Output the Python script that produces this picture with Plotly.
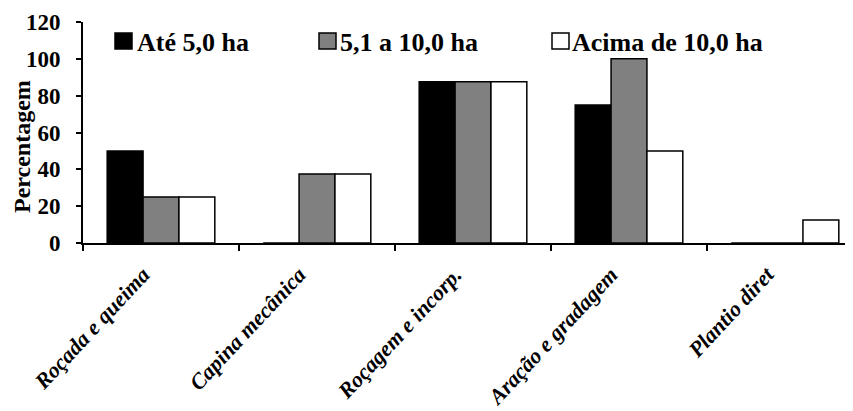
import plotly.graph_objects as go

categories = ["Roçada e queima", "Capina mecânica", "Roçagem e incorp.", "Aração e gradagem", "Plantio diret"]
series_names = ["Até 5,0 ha", "5,1 a 10,0 ha", "Acima de 10,0 ha"]
ate_5 = [50, 0, 87.5, 75, 0]
de_5_a_10 = [25, 37.5, 87.5, 100, 0]
acima_10 = [25, 37.5, 87.5, 50, 12.5]
series_values = [ate_5, de_5_a_10, acima_10]
colors = ["#000000", "#808080", "#ffffff"]
y_ticks = [0, 20, 40, 60, 80, 100, 120]
y_title = "Percentagem"

OFF = 8  # page body margin in the browser
W, H = 853 - OFF, 411 - OFF
L, R, T = 83 - OFF, 0, 22 - OFF
B = H - (243 - OFF)
pw, ph = W - L - R, H - T - B

FONT = "Liberation Serif, Times New Roman, serif"

fig = go.Figure()
for name, vals, col in zip(series_names, series_values, colors):
    fig.add_trace(go.Bar(
        x=categories, y=vals, name=name,
        marker=dict(color=col, line=dict(color="#000000", width=1.5)),
        showlegend=False,
    ))

def px2x(px):
    return (px - OFF - L) / pw

def px2y(py):
    return (H - B - (py - OFF)) / ph

# custom legend (styling only)
legend_items = [(115, 137), (319, 340), (552, 572)]
shapes = []
annotations = []
for (sqx, tx), name, col in zip(legend_items, series_names, colors):
    shapes.append(dict(type="rect", xref="paper", yref="paper",
                       x0=px2x(sqx), x1=px2x(sqx + 17), y0=px2y(49), y1=px2y(33),
                       fillcolor=col, line=dict(color="#000000", width=1.5)))
    annotations.append(dict(xref="paper", yref="paper", x=px2x(tx - 2), y=px2y(42),
                            xanchor="left", yanchor="middle", showarrow=False,
                            text=name, font=dict(family=FONT, size=26, color="#000000", weight="bold")))

annotations.append(dict(xref="paper", yref="paper", x=px2x(7), y=px2y(147),
                        xanchor="left", yanchor="middle", showarrow=False, textangle=-90,
                        text=y_title, font=dict(family=FONT, size=24, color="#000000", weight="bold")))

fig.update_layout(
    width=W, height=H,
    margin=dict(l=L, r=R, t=T, b=B, autoexpand=False),
    paper_bgcolor="#ffffff", plot_bgcolor="#ffffff",
    barmode="group", bargap=0.31, bargroupgap=0,
    shapes=shapes, annotations=annotations,
    font=dict(family=FONT, color="#000000"),
)
fig.update_xaxes(
    range=[-0.5, 4.5 - 10 / 156],
    showline=True, linecolor="#000000", linewidth=2,
    ticks="outside", tickson="boundaries", ticklen=6, tickwidth=2, tickcolor="#000000",
    tickangle=-47, ticklabelstandoff=8, ticklabelshift=-18,
    tickfont=dict(family=FONT, size=22, color="#000000", weight="bold", style="italic"),
    showgrid=False, automargin=False,
)
fig.update_yaxes(
    range=[0, 120], tickvals=y_ticks,
    showline=True, linecolor="#000000", linewidth=2,
    ticks="outside", ticklen=5, tickwidth=2, tickcolor="#000000",
    ticklabelstandoff=11,
    tickfont=dict(family=FONT, size=23, color="#000000", weight="bold"),
    showgrid=False, zeroline=False, automargin=False,
)

fig.write_html("out.html")
